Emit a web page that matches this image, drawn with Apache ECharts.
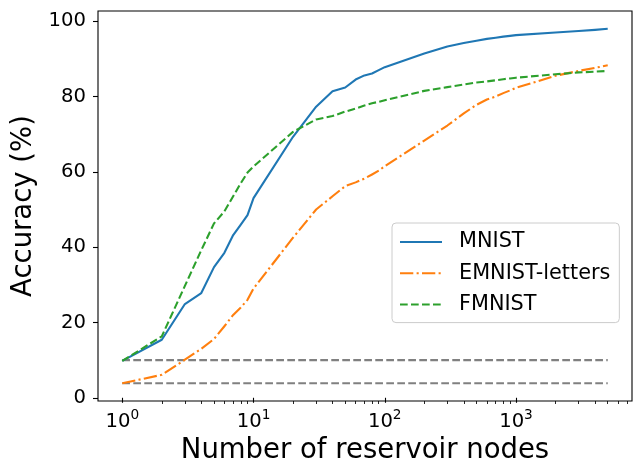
<!DOCTYPE html>
<html>
<head>
<meta charset="utf-8">
<script src="https://cdn.jsdelivr.net/npm/echarts@6/dist/echarts.min.js"></script>
<style>
html,body{margin:0;padding:0;background:#fff;}
#chart{width:634px;height:465px;}
</style>
</head>
<body>
<div id="chart"></div>
<script>
// ---- data ----
var nodes = [1,2,3,4,5,6,7,8,9,10,20,30,40,50,60,70,80,90,100,200,300,400,500,600,700,800,900,1000,2000,3000,4000,5000];
var mnist = [9.8,15.4,24.9,27.8,34.7,38.5,43.2,46.0,48.5,53.0,69.3,77.3,81.4,82.4,84.5,85.6,86.1,87.0,87.8,91.4,93.3,94.2,94.8,95.3,95.6,95.9,96.1,96.3,97.0,97.4,97.7,98.0];
var emnist = [3.85,6.1,10.1,13.0,15.6,19.0,22.0,24.0,26.0,29.0,42.5,50.0,53.5,56.2,57.2,58.2,59.3,60.3,61.5,68.3,72.3,75.5,77.8,79.2,80.0,80.9,81.6,82.3,85.5,86.8,87.6,88.3];
var fmnist = [9.8,16.3,29.7,39.2,46.3,49.5,53.5,57.0,59.8,61.4,70.6,73.9,74.8,76.0,76.8,77.6,78.2,78.6,79.0,81.5,82.5,83.2,83.7,84.0,84.3,84.6,84.8,85.0,85.9,86.4,86.6,86.8];
var chanceLevels = [10, 3.85];
var seriesNames = ['MNIST', 'EMNIST-letters', 'FMNIST'];
var xMajorTicks = [1, 10, 100, 1000];
var xMinorTicks = [2,3,4,5,6,7,8,9,20,30,40,50,60,70,80,90,200,300,400,500,600,700,800,900,2000,3000,4000,5000,6000,7000];
var yTicks = [0, 20, 40, 60, 80, 100];
var xLabel = 'Number of reservoir nodes';
var yLabel = 'Accuracy (%)';

// ---- build ----
function pairs(ys){ return nodes.map(function(x,i){ return [x, ys[i]]; }); }
var xFirst = nodes[0], xLast = nodes[nodes.length-1];
var lx0 = Math.log10(xFirst), lx1 = Math.log10(xLast), lpad = (lx1-lx0)*0.05;
var xMin = Math.pow(10, lx0 - lpad), xMax = Math.pow(10, lx1 + lpad);
var allY = mnist.concat(emnist, fmnist, chanceLevels);
var yLo = Math.min.apply(null, allY), yHi = Math.max.apply(null, allY), ypad = (yHi-yLo)*0.05;

var FONT = 'DejaVu Sans';
var lw = 2.1;
var chart = echarts.init(document.getElementById('chart'), null, {renderer:'canvas'});

var series = [];
chanceLevels.forEach(function(c){
  series.push({
    type:'line', xAxisIndex:0, yAxisIndex:0, data:[[xFirst,c],[xLast,c]],
    symbol:'none', silent:true, z:1,
    lineStyle:{color:'#808080', width:lw, type:[7.7,3.3], cap:'butt'}
  });
});
var colors = ['#1f77b4','#ff7f0e','#2ca02c'];
var dashes = ['solid', [13.3,3.3,2.1,3.3], [7.7,3.3]];
[mnist, emnist, fmnist].forEach(function(ys, i){
  series.push({
    name: seriesNames[i], type:'line', xAxisIndex:0, yAxisIndex:0, data:pairs(ys),
    symbol:'none', showSymbol:false, z:2+i,
    lineStyle:{color:colors[i], width:lw, type:dashes[i], cap:'butt', join:'round'},
    itemStyle:{color:colors[i]}
  });
});

var option = {
  backgroundColor:'#fff',
  animation:false,
  grid:{left:98, right:2, top:11, bottom:64, show:true, borderColor:'#000', borderWidth:1.1, backgroundColor:'transparent', outerBoundsMode:'none', containLabel:false},
  legend:{
    show:true, data:seriesNames, orient:'vertical', left:392, top:223,
    itemWidth:42, itemHeight:14, itemGap:7.3,
    padding:[7,9,6,7],
    itemStyle:{opacity:0, borderWidth:0},
    backgroundColor:'rgba(255,255,255,0.8)', borderColor:'#cccccc', borderWidth:1, borderRadius:4,
    textStyle:{fontFamily:FONT, fontSize:20.8, color:'#000', lineHeight:24, padding:[0,0,0,12]}
  },
  xAxis:[{
    type:'log', min:xMin, max:xMax, logBase:10,
    name:xLabel, nameLocation:'middle', nameGap:34,
    nameTextStyle:{fontFamily:FONT, fontSize:27.5, color:'#000'},
    axisLine:{show:false},
    splitLine:{show:false},
    minorTick:{show:false},
    axisTick:{show:true, inside:false, length:5, lineStyle:{color:'#000', width:1.1}, customValues:xMajorTicks},
    axisLabel:{show:true, margin:7, customValues:xMajorTicks, color:'#000', fontFamily:FONT, fontSize:19.6,
      formatter:function(v){ var e = Math.round(Math.log10(v)); return '{b|10}{s|' + e + '}'; },
      rich:{b:{fontFamily:FONT, fontSize:19.6, color:'#000', lineHeight:24, verticalAlign:'bottom'}, s:{fontFamily:FONT, fontSize:13.7, color:'#000', lineHeight:24, verticalAlign:'top'}}
    }
  },{
    type:'log', min:xMin, max:xMax, logBase:10, position:'bottom',
    axisLine:{show:false}, splitLine:{show:false}, axisLabel:{show:false},
    axisTick:{show:true, inside:false, length:3, lineStyle:{color:'#000', width:0.85}, customValues:xMinorTicks}
  }],
  yAxis:[{
    type:'value', min:yLo-ypad, max:yHi+ypad,
    name:yLabel, nameLocation:'middle', nameGap:58, nameRotate:90,
    nameTextStyle:{fontFamily:FONT, fontSize:27.5, color:'#000'},
    axisLine:{show:false}, splitLine:{show:false},
    axisTick:{show:true, inside:false, length:5, lineStyle:{color:'#000', width:1.1}, customValues:yTicks},
    axisLabel:{show:true, margin:12, customValues:yTicks, color:'#000', fontFamily:FONT, fontSize:19.6}
  }],
  series: series
};
chart.setOption(option);
</script>
</body>
</html>
